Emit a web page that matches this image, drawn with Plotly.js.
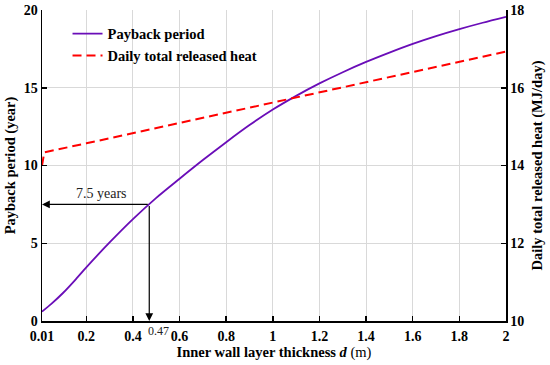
<!DOCTYPE html>
<html>
<head>
<meta charset="utf-8">
<script src="https://cdn.plot.ly/plotly-3.0.1.min.js"></script>
<style>html,body{margin:0;padding:0;background:#fff;}#chart{width:550px;height:365px;}</style>
</head>
<body>
<div id="chart"></div>
<script>
// Inner wall layer thickness d (m)
const thicknessPayback = [0.01, 0.05, 0.1, 0.15, 0.2, 0.3, 0.4, 0.5, 0.6, 0.7, 0.8, 0.9, 1.0, 1.1, 1.2, 1.3, 1.4, 1.5, 1.6, 1.7, 1.8, 1.9, 2.0];
const paybackYears = [0.6, 1.1, 1.8, 2.6, 3.45, 5.05, 6.55, 7.92, 9.15, 10.35, 11.5, 12.6, 13.6, 14.48, 15.28, 16.0, 16.66, 17.26, 17.82, 18.32, 18.77, 19.18, 19.56];
const thicknessHeat = [0.01, 0.02, 0.2, 0.4, 0.6, 0.8, 1.0, 1.2, 1.4, 1.6, 1.8, 2.0];
const dailyHeat = [14.0, 14.34, 14.57, 14.83, 15.1, 15.36, 15.62, 15.88, 16.15, 16.41, 16.67, 16.93];
const xTickVals = [0.01, 0.2, 0.4, 0.6, 0.8, 1, 1.2, 1.4, 1.6, 1.8, 2];
const xTickText = ['0.01', '0.2', '0.4', '0.6', '0.8', '1', '1.2', '1.4', '1.6', '1.8', '2'];
const yLeftTicks = [0, 5, 10, 15, 20];
const yRightTicks = [10, 12, 14, 16, 18];
const markThickness = 0.47;
const markPayback = 7.5;
const markLabel = '7.5 years';
const markThicknessLabel = '0.47';

const serif = 'Liberation Serif, Times New Roman, serif';

const traces = [
  {x: thicknessPayback, y: paybackYears, type: 'scatter', mode: 'lines', name: 'Payback period',
   legendgroup: 'a', line: {color: '#6A0DB8', width: 1.8, shape: 'spline', smoothing: 0.8}, yaxis: 'y'},
  {x: thicknessHeat, y: dailyHeat, type: 'scatter', mode: 'lines', name: 'Daily total released heat',
   legendgroup: 'b', line: {color: '#FF0000', width: 2, dash: '9px,5px'}, yaxis: 'y2'}
];

const layout = {
  width: 550, height: 365,
  margin: {l: 42, r: 44, t: 10, b: 44},
  paper_bgcolor: '#fff', plot_bgcolor: '#fff',
  font: {family: serif, color: '#000'},
  showlegend: true,
  legend: {x: 0.055, y: 0.975, xanchor: 'left', yanchor: 'top', bgcolor: 'rgba(255,255,255,0)',
           font: {family: serif, size: 14.5, weight: 'bold', color: '#000'}, tracegroupgap: 0, traceorder: 'grouped'},
  xaxis: {range: [0.01, 2], tickvals: xTickVals, ticktext: xTickText, showline: true, linecolor: '#000', linewidth: 1.5,
          ticks: 'inside', ticklen: 5, tickwidth: 1.5, tickcolor: '#000', showgrid: true, gridcolor: '#d9d9d9', gridwidth: 1,
          zeroline: false, tickfont: {family: serif, size: 14, weight: 'bold'}, ticklabelstandoff: 2,
          title: {text: '<b>Inner wall layer thickness <i>d</i></b> (m)', font: {family: serif, size: 14.5}, standoff: 2}},
  yaxis: {range: [0, 20], tickvals: yLeftTicks, showline: true, linecolor: '#000', linewidth: 1.5,
          ticks: 'inside', ticklen: 5, tickwidth: 1.5, tickcolor: '#000', showgrid: true, gridcolor: '#d9d9d9', gridwidth: 1,
          zeroline: false, tickfont: {family: serif, size: 14, weight: 'bold'},
          title: {text: '<b>Payback period (year)</b>', font: {family: serif, size: 14.5}, standoff: 4}},
  yaxis2: {range: [10, 18], tickvals: yRightTicks, overlaying: 'y', side: 'right', showline: true, linecolor: '#000', linewidth: 1.5,
          ticks: 'inside', ticklen: 5, tickwidth: 1.5, tickcolor: '#000', showgrid: false, zeroline: false,
          tickfont: {family: serif, size: 14, weight: 'bold'},
          title: {text: '<b>Daily total released heat (MJ/day)</b>', font: {family: serif, size: 14.5}, standoff: 8}},
  annotations: [
    {xref: 'x', yref: 'y', axref: 'x', ayref: 'y', x: 0.01, y: markPayback, ax: markThickness, ay: markPayback,
     showarrow: true, arrowhead: 2, arrowsize: 1.3, arrowwidth: 1.2, arrowcolor: '#000', text: ''},
    {xref: 'x', yref: 'y', axref: 'x', ayref: 'y', x: markThickness, y: 0, ax: markThickness, ay: markPayback,
     showarrow: true, arrowhead: 2, arrowsize: 1.3, arrowwidth: 1.2, arrowcolor: '#000', text: ''},
    {xref: 'x', yref: 'y', x: 0.265, y: markPayback, yshift: 11, showarrow: false,
     text: markLabel, font: {family: serif, size: 14, color: '#222'}},
    {xref: 'x', yref: 'paper', x: markThickness, y: 0, yanchor: 'middle', xanchor: 'center', yshift: -10, xshift: 9, showarrow: false,
     text: markThicknessLabel, font: {family: serif, size: 12, color: '#222'}}
  ]
};

Plotly.newPlot('chart', traces, layout, {displayModeBar: false, staticPlot: true});
</script>
</body>
</html>
